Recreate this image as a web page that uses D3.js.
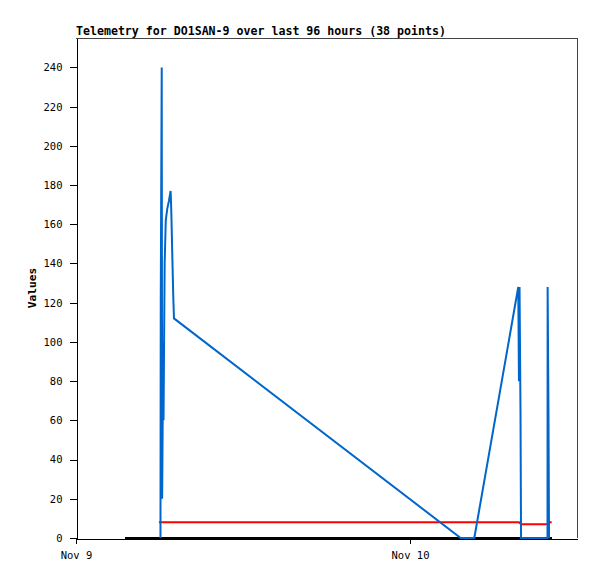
<!DOCTYPE html>
<html>
<head>
<meta charset="utf-8">
<script src="https://cdn.jsdelivr.net/npm/d3@7"></script>
<style>
  html, body { margin: 0; padding: 0; background: #fff; }
  svg { display: block; }
  text { font-family: "DejaVu Sans Mono", "Liberation Mono", monospace; }
</style>
</head>
<body>
<svg id="chart" width="597" height="579"></svg>
<script>
// ---- data ----
const titleText = "Telemetry for DO1SAN-9 over last 96 hours (38 points)";
const yLabel = "Values";

const blueTimes = [
  "2024-11-09 06:04:12", "2024-11-09 06:05:24", "2024-11-09 06:09:36", "2024-11-09 06:11:24",
  "2024-11-09 06:16:12", "2024-11-09 06:17:24", "2024-11-09 06:22:12", "2024-11-09 06:27:00",
  "2024-11-09 06:33:36", "2024-11-09 06:40:48", "2024-11-09 06:48:00", "2024-11-09 06:51:00",
  "2024-11-09 06:55:12", "2024-11-09 06:59:24", "2024-11-09 07:02:24",
  "2024-11-10 03:38:24", "2024-11-10 04:37:12", "2024-11-10 07:46:48", "2024-11-10 07:49:48",
  "2024-11-10 07:52:12", "2024-11-10 07:56:24", "2024-11-10 07:58:48",
  "2024-11-10 09:52:48", "2024-11-10 09:53:24", "2024-11-10 09:57:00", "2024-11-10 09:59:24"
];
const blueValues = [
  0, 121, 240, 20,
  100, 60, 140, 162,
  168, 172, 177, 166,
  144, 123, 112,
  0, 0, 128, 80,
  128, 65, 0,
  0, 128, 65, 0
];

const redTimes = [
  "2024-11-09 05:57:36", "2024-11-10 07:49:48", "2024-11-10 07:58:48",
  "2024-11-10 09:55:12", "2024-11-10 10:03:36", "2024-11-10 10:10:48"
];
const redValues = [8, 8, 7, 7, 8, 8];

const blackTimes = ["2024-11-09 03:30:00", "2024-11-10 10:12:00"];
const blackValues = [0, 0];

const xDomain = ["2024-11-09 00:00:00", "2024-11-10 12:00:00"];
const xTickDates = ["2024-11-09 00:00:00", "2024-11-10 00:00:00"];
const yDomain = [0, 255];
const yTickValues = [0, 20, 40, 60, 80, 100, 120, 140, 160, 180, 200, 220, 240];

// ---- drawing ----
const parse = d3.timeParse("%Y-%m-%d %H:%M:%S");
const svg = d3.select("#chart");
const m = { left: 76, top: 38, right: 577, bottom: 538 };

const x = d3.scaleTime().domain(xDomain.map(parse)).range([m.left, m.right]);
const y = d3.scaleLinear().domain(yDomain).range([m.bottom, m.top]);

const zip = (ts, vs) => ts.map((t, i) => ({ t: parse(t), v: vs[i] }));
const line = d3.line().x(d => x(d.t)).y(d => y(d.v));

// frame (top/right gray)
svg.append("path")
  .attr("d", `M${m.left},${m.top + 0.5}H${m.right + 0.5}V${m.bottom}`)
  .attr("fill", "none").attr("stroke", "#444").attr("stroke-width", 1)
  .attr("shape-rendering", "crispEdges");

// y axis
const yAxis = d3.axisLeft(y).tickValues(yTickValues).tickSize(7).tickPadding(7).tickSizeOuter(0);
const gy = svg.append("g").attr("transform", `translate(${m.left + 0.5},0)`).call(yAxis);
gy.select(".domain").attr("stroke", "#000").attr("shape-rendering", "crispEdges");
gy.selectAll(".tick line").attr("stroke", "#000").attr("shape-rendering", "crispEdges");
gy.selectAll(".tick text").attr("font-size", "10.5px").attr("fill", "#000")
  .attr("font-family", "'DejaVu Sans Mono', monospace");

// x axis
const xAxis = d3.axisBottom(x).tickValues(xTickDates.map(parse))
  .tickFormat(d3.timeFormat("%b %-d")).tickSize(5).tickPadding(8).tickSizeOuter(0);
const gx = svg.append("g").attr("transform", `translate(0,${m.bottom + 0.5})`).call(xAxis);
gx.select(".domain").attr("stroke", "#000").attr("shape-rendering", "crispEdges");
gx.selectAll(".tick line").attr("stroke", "#000").attr("shape-rendering", "crispEdges");
gx.selectAll(".tick text").attr("font-size", "10.5px").attr("fill", "#000")
  .attr("font-family", "'DejaVu Sans Mono', monospace");

// series
const series = [
  { data: zip(blackTimes, blackValues), color: "#000000", crisp: true },
  { data: zip(redTimes, redValues), color: "#ff0000", crisp: false },
  { data: zip(blueTimes, blueValues), color: "#0066cc", crisp: false }
];
svg.append("g").selectAll("path").data(series).join("path")
  .attr("d", s => line(s.data))
  .attr("fill", "none")
  .attr("stroke", s => s.color)
  .attr("stroke-width", 2)
  .attr("shape-rendering", s => s.crisp ? "crispEdges" : null)
  .attr("stroke-linejoin", "miter");

// title
svg.append("text")
  .attr("x", m.left).attr("y", 35)
  .attr("font-size", "11.6px").attr("font-weight", "bold")
  .text(titleText);

// y label
svg.append("text")
  .attr("transform", `translate(36,${(m.top + m.bottom) / 2}) rotate(-90)`)
  .attr("text-anchor", "middle")
  .attr("font-size", "11.2px").attr("font-weight", "bold")
  .text(yLabel);
</script>
</body>
</html>
